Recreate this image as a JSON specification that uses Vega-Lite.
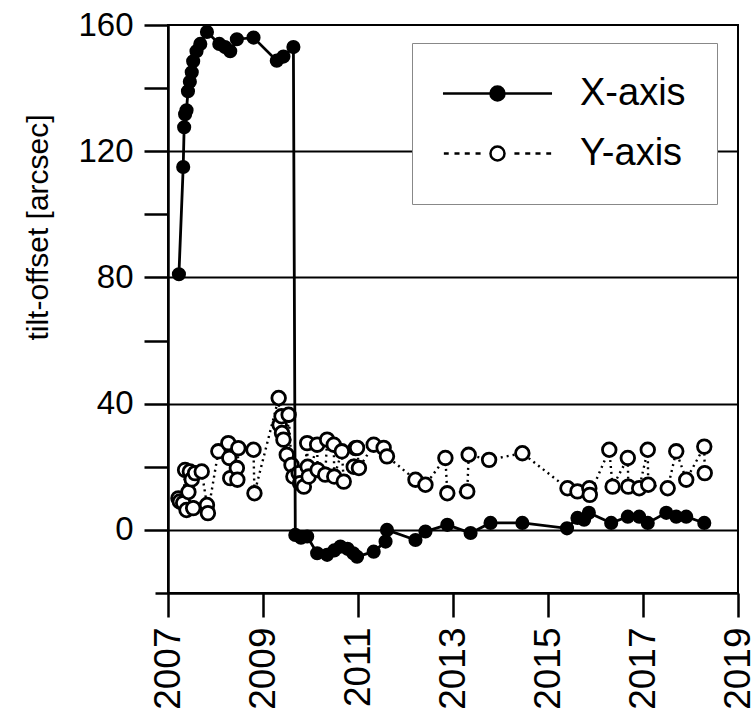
{
  "$schema": "https://vega.github.io/schema/vega-lite/v6.json",
  "width": 570,
  "height": 568,
  "autosize": {"type": "none"},
  "padding": {"left": 168, "top": 25, "right": 16, "bottom": 124},
  "background": "white",
  "config": {
    "font": "Liberation Sans",
    "view": {"stroke": "black", "strokeWidth": 2},
    "axis": {
      "domainColor": "black",
      "domainWidth": 2.5,
      "tickColor": "black",
      "tickWidth": 2.5,
      "labelColor": "black",
      "labelFont": "Liberation Sans",
      "titleFont": "Liberation Sans",
      "titleColor": "black",
      "titleFontWeight": "normal"
    },
    "legend": {"labelFont": "Liberation Sans"}
  },
  "data": {
    "values": [
      {"series": "X-axis", "t": 2007.23, "v": 81},
      {"series": "X-axis", "t": 2007.32, "v": 115},
      {"series": "X-axis", "t": 2007.34, "v": 127.6},
      {"series": "X-axis", "t": 2007.36, "v": 131.7},
      {"series": "X-axis", "t": 2007.39, "v": 133},
      {"series": "X-axis", "t": 2007.42, "v": 139},
      {"series": "X-axis", "t": 2007.46, "v": 142},
      {"series": "X-axis", "t": 2007.50, "v": 145},
      {"series": "X-axis", "t": 2007.53, "v": 148.5},
      {"series": "X-axis", "t": 2007.60, "v": 151.7},
      {"series": "X-axis", "t": 2007.68, "v": 154},
      {"series": "X-axis", "t": 2007.82, "v": 157.8},
      {"series": "X-axis", "t": 2008.08, "v": 154},
      {"series": "X-axis", "t": 2008.20, "v": 153},
      {"series": "X-axis", "t": 2008.31, "v": 151.7},
      {"series": "X-axis", "t": 2008.45, "v": 155.5},
      {"series": "X-axis", "t": 2008.80, "v": 156},
      {"series": "X-axis", "t": 2009.29, "v": 148.7},
      {"series": "X-axis", "t": 2009.43, "v": 150},
      {"series": "X-axis", "t": 2009.64, "v": 153},
      {"series": "X-axis", "t": 2009.68, "v": -1.6},
      {"series": "X-axis", "t": 2009.80, "v": -2.5},
      {"series": "X-axis", "t": 2009.93, "v": -2.1},
      {"series": "X-axis", "t": 2010.14, "v": -7.4},
      {"series": "X-axis", "t": 2010.35, "v": -7.9},
      {"series": "X-axis", "t": 2010.50, "v": -6.5},
      {"series": "X-axis", "t": 2010.63, "v": -5.3},
      {"series": "X-axis", "t": 2010.78, "v": -6},
      {"series": "X-axis", "t": 2010.90, "v": -7.4},
      {"series": "X-axis", "t": 2010.98, "v": -8.5},
      {"series": "X-axis", "t": 2011.33, "v": -6.9},
      {"series": "X-axis", "t": 2011.58, "v": -3.7},
      {"series": "X-axis", "t": 2011.61, "v": 0},
      {"series": "X-axis", "t": 2012.21, "v": -3.2},
      {"series": "X-axis", "t": 2012.42, "v": -0.5},
      {"series": "X-axis", "t": 2012.88, "v": 1.6},
      {"series": "X-axis", "t": 2013.37, "v": -1},
      {"series": "X-axis", "t": 2013.79, "v": 2.2},
      {"series": "X-axis", "t": 2014.46, "v": 2.2},
      {"series": "X-axis", "t": 2015.40, "v": 0.5},
      {"series": "X-axis", "t": 2015.62, "v": 3.8},
      {"series": "X-axis", "t": 2015.76, "v": 3.2},
      {"series": "X-axis", "t": 2015.86, "v": 5.4},
      {"series": "X-axis", "t": 2016.33, "v": 2.2},
      {"series": "X-axis", "t": 2016.68, "v": 4.2},
      {"series": "X-axis", "t": 2016.92, "v": 4.2},
      {"series": "X-axis", "t": 2017.10, "v": 2.2},
      {"series": "X-axis", "t": 2017.49, "v": 5.4},
      {"series": "X-axis", "t": 2017.70, "v": 4.2},
      {"series": "X-axis", "t": 2017.91, "v": 4.2},
      {"series": "X-axis", "t": 2018.29, "v": 2.2},
      {"series": "Y-axis", "t": 2007.22, "v": 10},
      {"series": "Y-axis", "t": 2007.25, "v": 9},
      {"series": "Y-axis", "t": 2007.32, "v": 8.5},
      {"series": "Y-axis", "t": 2007.36, "v": 19},
      {"series": "Y-axis", "t": 2007.39, "v": 6.3},
      {"series": "Y-axis", "t": 2007.43, "v": 12},
      {"series": "Y-axis", "t": 2007.46, "v": 18.5},
      {"series": "Y-axis", "t": 2007.50, "v": 16},
      {"series": "Y-axis", "t": 2007.53, "v": 6.9},
      {"series": "Y-axis", "t": 2007.57, "v": 18},
      {"series": "Y-axis", "t": 2007.71, "v": 18.5},
      {"series": "Y-axis", "t": 2007.82, "v": 7.9},
      {"series": "Y-axis", "t": 2007.84, "v": 5.3},
      {"series": "Y-axis", "t": 2008.06, "v": 24.9},
      {"series": "Y-axis", "t": 2008.27, "v": 27.5},
      {"series": "Y-axis", "t": 2008.29, "v": 22.8},
      {"series": "Y-axis", "t": 2008.31, "v": 16.4},
      {"series": "Y-axis", "t": 2008.45, "v": 19.6},
      {"series": "Y-axis", "t": 2008.46, "v": 15.9},
      {"series": "Y-axis", "t": 2008.48, "v": 25.9},
      {"series": "Y-axis", "t": 2008.80, "v": 25.4},
      {"series": "Y-axis", "t": 2008.82, "v": 11.6},
      {"series": "Y-axis", "t": 2009.33, "v": 41.8},
      {"series": "Y-axis", "t": 2009.35, "v": 33.3},
      {"series": "Y-axis", "t": 2009.39, "v": 36},
      {"series": "Y-axis", "t": 2009.40, "v": 30.7},
      {"series": "Y-axis", "t": 2009.43, "v": 28.6},
      {"series": "Y-axis", "t": 2009.50, "v": 23.8},
      {"series": "Y-axis", "t": 2009.54, "v": 36.5},
      {"series": "Y-axis", "t": 2009.60, "v": 20.6},
      {"series": "Y-axis", "t": 2009.64, "v": 16.9},
      {"series": "Y-axis", "t": 2009.75, "v": 18},
      {"series": "Y-axis", "t": 2009.78, "v": 14.8},
      {"series": "Y-axis", "t": 2009.86, "v": 13.7},
      {"series": "Y-axis", "t": 2009.93, "v": 27.5},
      {"series": "Y-axis", "t": 2009.94, "v": 20},
      {"series": "Y-axis", "t": 2009.96, "v": 16.9},
      {"series": "Y-axis", "t": 2010.14, "v": 27},
      {"series": "Y-axis", "t": 2010.15, "v": 19},
      {"series": "Y-axis", "t": 2010.31, "v": 17.5},
      {"series": "Y-axis", "t": 2010.35, "v": 28.6},
      {"series": "Y-axis", "t": 2010.49, "v": 27},
      {"series": "Y-axis", "t": 2010.50, "v": 16.9},
      {"series": "Y-axis", "t": 2010.66, "v": 24.9},
      {"series": "Y-axis", "t": 2010.70, "v": 15.3},
      {"series": "Y-axis", "t": 2010.91, "v": 20},
      {"series": "Y-axis", "t": 2010.95, "v": 25.9},
      {"series": "Y-axis", "t": 2010.98, "v": 26},
      {"series": "Y-axis", "t": 2011.02, "v": 19.6},
      {"series": "Y-axis", "t": 2011.33, "v": 27},
      {"series": "Y-axis", "t": 2011.54, "v": 26},
      {"series": "Y-axis", "t": 2011.61, "v": 23.3},
      {"series": "Y-axis", "t": 2012.21, "v": 15.9},
      {"series": "Y-axis", "t": 2012.42, "v": 14.3},
      {"series": "Y-axis", "t": 2012.84, "v": 22.8},
      {"series": "Y-axis", "t": 2012.88, "v": 11.6},
      {"series": "Y-axis", "t": 2013.30, "v": 12.2},
      {"series": "Y-axis", "t": 2013.33, "v": 23.8},
      {"series": "Y-axis", "t": 2013.76, "v": 22.2},
      {"series": "Y-axis", "t": 2014.46, "v": 24.3},
      {"series": "Y-axis", "t": 2015.41, "v": 13.2},
      {"series": "Y-axis", "t": 2015.62, "v": 12.2},
      {"series": "Y-axis", "t": 2015.87, "v": 13.2},
      {"series": "Y-axis", "t": 2015.88, "v": 11.1},
      {"series": "Y-axis", "t": 2016.29, "v": 25.4},
      {"series": "Y-axis", "t": 2016.36, "v": 13.7},
      {"series": "Y-axis", "t": 2016.68, "v": 22.8},
      {"series": "Y-axis", "t": 2016.69, "v": 13.7},
      {"series": "Y-axis", "t": 2016.92, "v": 13.2},
      {"series": "Y-axis", "t": 2017.10, "v": 25.4},
      {"series": "Y-axis", "t": 2017.11, "v": 14.3},
      {"series": "Y-axis", "t": 2017.52, "v": 13.2},
      {"series": "Y-axis", "t": 2017.70, "v": 24.9},
      {"series": "Y-axis", "t": 2017.91, "v": 15.9},
      {"series": "Y-axis", "t": 2018.29, "v": 26.4},
      {"series": "Y-axis", "t": 2018.30, "v": 18}
    ]
  },
  "encoding": {
    "x": {
      "field": "t",
      "type": "quantitative",
      "scale": {"domain": [2007, 2019], "nice": false, "zero": false},
      "axis": {
        "title": null,
        "values": [2007, 2009, 2011, 2013, 2015, 2017, 2019],
        "format": "d",
        "grid": false,
        "tickSize": 24,
        "labelAngle": 270,
        "labelAlign": "right",
        "labelBaseline": "middle",
        "labelFontSize": 37,
        "labelPadding": 10,
        "labelFlush": false,
        "labelOverlap": false
      }
    },
    "y": {
      "field": "v",
      "type": "quantitative",
      "scale": {"domain": [-20, 160], "nice": false, "zero": false},
      "axis": {
        "title": "tilt-offset [arcsec]",
        "titleFontSize": 30,
        "titleLimit": 500,
        "titleX": -130,
        "titleY": 202,
        "titleAngle": 270,
        "titleAlign": "center",
        "titleBaseline": "middle",
        "values": [-20, 0, 20, 40, 60, 80, 100, 120, 140, 160],
        "labelExpr": "datum.value % 40 === 0 ? datum.label : ''",
        "labelFontSize": 33,
        "labelPadding": 11,
        "labelFlush": false,
        "labelOverlap": false,
        "tickSize": {"condition": {"test": "datum.value === -20", "value": 13}, "value": 24},
        "grid": true,
        "gridColor": "black",
        "gridWidth": 2,
        "gridOpacity": {"condition": {"test": "datum.value === 0 || datum.value === 40 || datum.value === 80 || datum.value === 120", "value": 1}, "value": 0}
      }
    }
  },
  "layer": [
    {
      "transform": [{"filter": "datum.series === 'Y-axis'"}],
      "mark": {"type": "line", "color": "black", "strokeWidth": 2.4, "strokeDash": [2, 4]},
      "encoding": {}
    },
    {
      "transform": [{"filter": "datum.series === 'Y-axis'"}],
      "mark": {"type": "point", "shape": "circle", "filled": false, "fill": "white", "fillOpacity": 1, "stroke": "black", "strokeWidth": 2.8, "size": 185, "opacity": 1},
      "encoding": {}
    },
    {
      "transform": [{"filter": "datum.series === 'X-axis'"}],
      "mark": {"type": "line", "color": "black", "strokeWidth": 2.8},
      "encoding": {}
    },
    {
      "transform": [{"filter": "datum.series === 'X-axis'"}],
      "mark": {"type": "point", "shape": "circle", "filled": true, "color": "black", "size": 200, "opacity": 1},
      "encoding": {}
    },
    {
      "transform": [{"filter": "datum.series === 'none'"}],
      "mark": {"type": "point", "filled": false, "color": "black", "stroke": "black", "strokeWidth": 2.5, "opacity": 1},
      "encoding": {
        "shape": {
          "field": "series",
          "type": "nominal",
          "scale": {
            "domain": ["X-axis", "Y-axis"],
            "range": [
              "M-3.03,0H3.03M0.39,0A0.39,0.39,0,1,1,-0.39,0A0.39,0.39,0,1,1,0.39,0Z",
              "M-2.98,0H-2.71M-2.39,0H-2.11M-1.82,0H-1.54M-1.22,0H-0.94M0.94,0H1.22M1.54,0H1.82M2.11,0H2.39M2.71,0H2.98M0.39,0A0.39,0.39,0,1,1,-0.39,0A0.39,0.39,0,1,1,0.39,0Z"
            ]
          },
          "legend": {
            "orient": "none",
            "legendX": 244,
            "legendY": 18,
            "title": null,
            "padding": 31,
            "fillColor": "white",
            "strokeColor": "#888888",
            "symbolSize": 1296,
            "symbolStrokeWidth": 2.5,
            "symbolOffset": 35,
            "labelOffset": 63,
            "labelFontSize": 38,
            "labelColor": "black",
            "labelLimit": 300,
            "rowPadding": 21
          }
        },
        "fill": {
          "field": "series",
          "type": "nominal",
          "scale": {"domain": ["X-axis", "Y-axis"], "range": ["black", "white"]},
          "legend": {
            "orient": "none",
            "legendX": 244,
            "legendY": 18,
            "title": null,
            "padding": 31,
            "fillColor": "white",
            "strokeColor": "#888888",
            "symbolSize": 1296,
            "symbolStrokeWidth": 2.5,
            "symbolOffset": 35,
            "labelOffset": 63,
            "labelFontSize": 38,
            "labelColor": "black",
            "labelLimit": 300,
            "rowPadding": 21
          }
        }
      }
    }
  ]
}
